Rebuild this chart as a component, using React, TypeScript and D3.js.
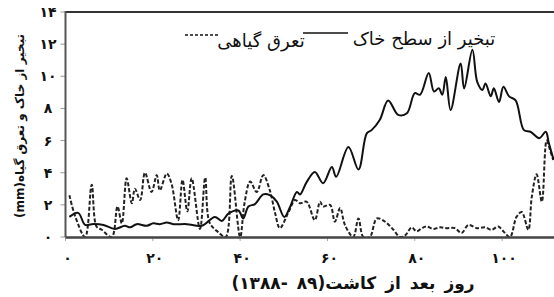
import { useEffect, useRef } from 'react';
import * as d3 from 'd3';

// soil surface evaporation (solid line)
const soilDays = [
  0.9, 2.9, 4.5, 6.0, 8.7, 11.3, 13.6, 14.8, 16.3, 18.6, 20.1, 21.6, 23.2, 24.7, 27.8, 31.2,
  34.2, 35.8, 37.3, 39.6, 40.7, 41.9, 43.4, 45.3, 46.8, 48.4, 50.1, 51.4, 53.0, 53.7, 55.2,
  57.1, 59.0, 61.0, 62.0, 64.8, 67.1, 69.0, 70.1, 72.0, 73.9, 76.2, 78.2, 80.0, 81.2, 83.2,
  84.4, 85.5, 86.3, 87.1, 88.2, 90.5, 91.3, 93.2, 94.3, 95.5, 96.2, 97.4, 98.1, 99.3, 100.3,
  101.6, 103.1, 105.0, 106.5, 108.5, 110.0, 110.7, 111.8,
];
const soilEvap = [
  1.25, 1.5, 0.75, 0.8, 0.75, 0.5, 0.7, 0.6, 0.8, 0.7, 0.85, 0.8, 0.9, 0.8, 0.8, 0.7,
  1.25, 1.0, 1.45, 1.65, 1.15, 1.9, 2.05, 2.65, 2.6, 2.2, 1.25, 1.85, 2.8, 2.65, 3.4,
  4.05, 3.35, 4.35, 3.75, 5.6, 4.2, 6.45, 6.65, 7.3, 8.5, 7.6, 7.7, 8.95, 8.85, 10.2,
  9.05, 9.25, 8.85, 9.95, 7.9, 10.8, 9.25, 11.65, 9.65, 9.15, 9.55, 8.75, 9.25, 8.4, 9.35,
  8.75, 8.5, 6.65, 6.55, 6.15, 6.55, 5.85, 4.8,
];

// plant transpiration (dashed line)
const plantDays = [
  0.9, 2.2, 4.5, 6.0, 7.1, 8.3, 10.6, 11.9, 12.9, 14.0, 15.2, 15.9, 17.1, 18.2, 19.7, 20.9,
  21.6, 23.2, 24.3, 25.8, 26.8, 27.9, 28.9, 30.8, 32.0, 33.0, 35.0, 36.7, 38.1, 40.0, 41.0,
  42.3, 43.8, 45.3, 46.8, 48.0, 49.1, 51.0, 52.6, 53.7, 55.2, 57.1, 58.3, 59.0, 60.6, 61.7,
  62.9, 64.0, 65.9, 67.1, 68.2, 69.7, 71.3, 73.2, 75.1, 76.6, 77.8, 79.3, 80.4, 81.6, 82.7,
  84.2, 85.8, 87.3, 89.2, 90.7, 92.3, 94.2, 96.1, 97.6, 99.1, 100.3, 101.8, 103.3, 104.5,
  106.0, 106.8, 107.9, 109.1, 110.2, 111.0, 111.7,
];
const plantTransp = [
  2.6, 1.3, 0, 3.25, 0.65, 0.45, 0, 1.9, 0.85, 3.65, 2.1, 3.0, 2.3, 4.0, 2.8, 3.85,
  2.9, 3.95, 3.3, 1.05, 3.55, 1.6, 3.65, 0.5, 3.7, 0.9, 0.3, 0, 3.8, 0, 2.1,
  3.45, 2.8, 3.85, 2.9, 1.5, 0.55, 1.5, 2.3, 2.1, 2.2, 1.05, 2.2, 1.9, 2.0, 0.95,
  1.8, 0.75, 0, 1.15, 0, 0, 1.15, 0.95, 0.45, 0, 0.1, 0.6, 0.35, 0.55, 0.65,
  0.5, 0.6, 0.55, 0.55, 0.25, 0.75, 0.55, 0.6, 0.45, 0.65, 0.35, 0, 1.25, 1.55,
  0.45, 2.5, 3.9, 2.2, 6.0, 5.4, 4.8,
];

const xTicks = [0, 20, 40, 60, 80, 100];
const yTicks = [0, 2, 4, 6, 8, 10, 12, 14];

const soilLabel = 'تبخیر از سطح خاک';
const plantLabel = 'تعرق گیاهی';
const xTitle = 'روز بعد از کاشت(۸۹ -۱۳۸۸)';
const yTitle = 'تبخیر از خاک و تعرق گیاه(mm)';

const faDigits = '۰۱۲۳۴۵۶۷۸۹';
const toFa = (n: number) => String(n).replace(/\d/g, (c) => faDigits[+c]);

const App = () => {
  const svgRef = useRef<SVGSVGElement>(null);

  useEffect(() => {
    const width = 554;
    const height = 297;
    const margin = { top: 12, right: -0.5, bottom: 60, left: 65.5 };
    const font = '"DejaVu Sans", sans-serif';

    const svg = d3.select(svgRef.current).attr('width', width).attr('height', height);
    svg.selectAll('*').remove();

    const x = d3.scaleLinear().domain([0, 112]).range([margin.left, width - margin.right]);
    const y = d3.scaleLinear().domain([0, 14]).range([height - margin.bottom, margin.top]);

    svg
      .append('defs')
      .append('clipPath')
      .attr('id', 'plot-clip')
      .append('rect')
      .attr('x', margin.left)
      .attr('y', margin.top)
      .attr('width', width - margin.left)
      .attr('height', y(0) - margin.top + 1);

    // y ticks + labels
    const yAxis = svg.append('g');
    yAxis
      .selectAll('line')
      .data(yTicks)
      .join('line')
      .attr('x1', margin.left - 5)
      .attr('x2', margin.left)
      .attr('y1', (d) => y(d))
      .attr('y2', (d) => y(d))
      .attr('stroke', '#999')
      .attr('stroke-width', 1);
    yAxis
      .selectAll('text')
      .data(yTicks)
      .join('text')
      .attr('x', 48)
      .attr('y', (d) => y(d) + 5)
      .attr('text-anchor', 'middle')
      .attr('font-family', font)
      .attr('font-size', 14)
      .attr('font-weight', 'bold')
      .attr('fill', '#111')
      .text((d) => toFa(d));

    // x ticks + labels
    const xAxis = svg.append('g');
    xAxis
      .selectAll('line')
      .data(xTicks)
      .join('line')
      .attr('x1', (d) => x(d))
      .attr('x2', (d) => x(d))
      .attr('y1', y(0))
      .attr('y2', y(0) + 4)
      .attr('stroke', '#aaa')
      .attr('stroke-width', 1);
    xAxis
      .selectAll('text')
      .data(xTicks)
      .join('text')
      .attr('x', (d) => x(d) + 2)
      .attr('y', 263)
      .attr('text-anchor', 'middle')
      .attr('font-family', font)
      .attr('font-size', 14)
      .attr('font-weight', 'bold')
      .attr('fill', '#111')
      .text((d) => toFa(d));

    // frame
    svg
      .append('line')
      .attr('x1', margin.left)
      .attr('x2', width)
      .attr('y1', margin.top)
      .attr('y2', margin.top)
      .attr('stroke', '#333')
      .attr('stroke-width', 2);
    svg
      .append('line')
      .attr('x1', margin.left)
      .attr('x2', margin.left)
      .attr('y1', margin.top - 1)
      .attr('y2', y(0))
      .attr('stroke', '#555')
      .attr('stroke-width', 2);

    const line = d3
      .line<number>()
      .x((d) => x(d))
      .curve(d3.curveCatmullRom.alpha(0.5));

    const plot = svg.append('g').attr('clip-path', 'url(#plot-clip)');
    plot
      .append('path')
      .attr('d', line.y((_, i) => y(plantTransp[i]))(plantDays))
      .attr('fill', 'none')
      .attr('stroke', '#222')
      .attr('stroke-width', 2)
      .attr('stroke-dasharray', '4,2');
    plot
      .append('path')
      .attr('d', line.y((_, i) => y(soilEvap[i]))(soilDays))
      .attr('fill', 'none')
      .attr('stroke', '#111')
      .attr('stroke-width', 2);

    svg
      .append('line')
      .attr('x1', margin.left)
      .attr('x2', width)
      .attr('y1', y(0) + 0.5)
      .attr('y2', y(0) + 0.5)
      .attr('stroke', '#444')
      .attr('stroke-width', 2.5);

    // legend
    svg
      .append('text')
      .attr('x', 424)
      .attr('y', 45)
      .attr('direction', 'rtl')
      .attr('text-anchor', 'middle')
      .attr('font-family', font)
      .attr('font-size', 18)
      .attr('fill', '#111')
      .text(soilLabel);
    svg
      .append('line')
      .attr('x1', 303)
      .attr('x2', 348)
      .attr('y1', 33)
      .attr('y2', 33)
      .attr('stroke', '#111')
      .attr('stroke-width', 1.5);
    svg
      .append('text')
      .attr('x', 261)
      .attr('y', 47)
      .attr('direction', 'rtl')
      .attr('text-anchor', 'middle')
      .attr('font-family', font)
      .attr('font-size', 18)
      .attr('fill', '#111')
      .text(plantLabel);
    svg
      .append('line')
      .attr('x1', 185)
      .attr('x2', 220)
      .attr('y1', 35)
      .attr('y2', 35)
      .attr('stroke', '#111')
      .attr('stroke-width', 1.5)
      .attr('stroke-dasharray', '3,2');

    // axis titles
    svg
      .append('text')
      .attr('x', 353)
      .attr('y', 289)
      .attr('direction', 'rtl')
      .attr('text-anchor', 'middle')
      .attr('font-family', font)
      .attr('font-size', 17)
      .attr('font-weight', 'bold')
      .attr('word-spacing', 3)
      .attr('fill', '#111')
      .text(xTitle);
    svg
      .append('text')
      .attr('transform', 'translate(24,126) rotate(-90)')
      .attr('direction', 'rtl')
      .attr('text-anchor', 'middle')
      .attr('font-family', font)
      .attr('font-size', 12)
      .attr('font-weight', 'bold')
      .attr('fill', '#111')
      .text(yTitle);
  }, []);

  return (
    <div style={{ position: 'absolute', left: 0, top: 0, background: '#fff' }}>
      <svg ref={svgRef} style={{ display: 'block' }}></svg>
    </div>
  );
};

export default App;
